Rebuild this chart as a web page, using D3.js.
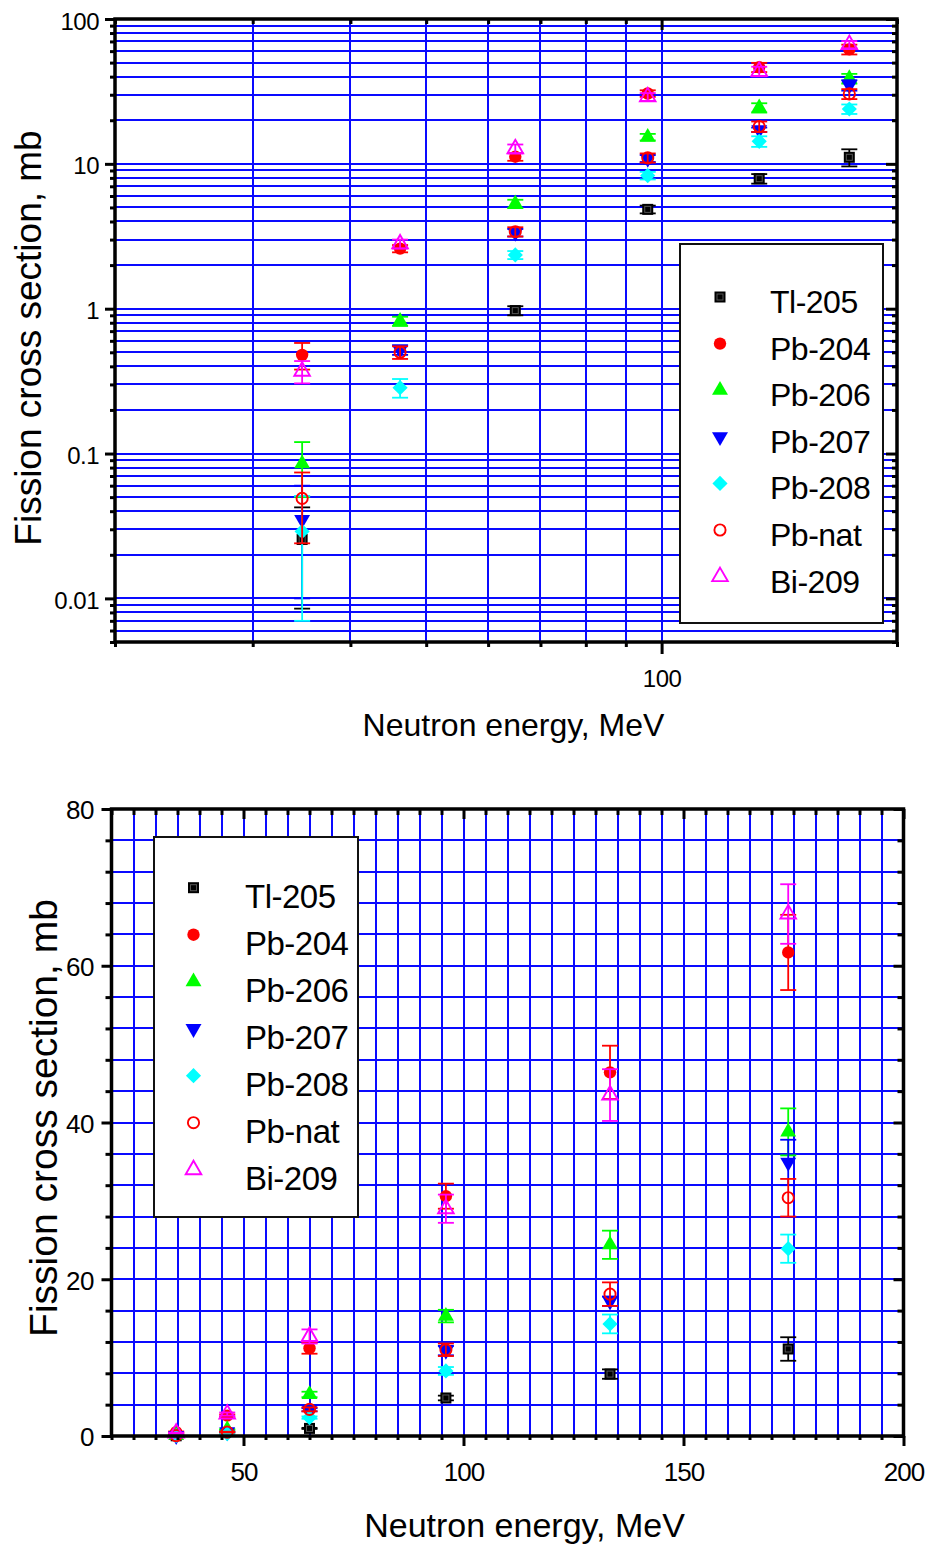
<!DOCTYPE html>
<html>
<head>
<meta charset="utf-8">
<script src="https://cdn.jsdelivr.net/npm/d3@7"></script>
<style>
  body { margin: 0; background: #fff; }
  svg { display: block; font-family: Arial, "Liberation Sans", sans-serif; }
</style>
</head>
<body>
<svg id="fig" width="927" height="1550"></svg>
<script>
// Neutron energies of the measured points (MeV)
const energies = [34.7, 46.3, 65, 96, 133.3, 173.8];

// Fission cross sections (mb) and their uncertainties; null = no measurement
const tl205    = [0.0255, null, 0.97, 4.85, 7.9, 11.1];
const tl205Err = [0.017, null, 0.07, 0.3, 0.6, 1.5];
const pb204    = [0.48, 2.6, 11.2, 30.6, 46.4, 61.7];
const pb204Err = [0.1, 0.15, 0.7, 1.6, 3.4, 4.8];
const pb206    = [0.085, 0.82, 5.3, 15.3, 24.4, 38.8];
const pb206Err = [0.035, 0.06, 0.35, 0.8, 1.8, 3.0];
const pb207    = [0.035, 0.52, 3.35, 10.9, 17.2, 34.9];
const pb207Err = [0.025, 0.04, 0.2, 0.6, 0.6, 2.9];
const pb208    = [0.029, 0.285, 2.35, 8.3, 14.3, 23.9];
const pb208Err = [0.022, 0.042, 0.15, 0.5, 1.2, 1.8];
const pbnat    = [0.049, 0.5, 3.4, 11.0, 18.1, 30.4];
const pbnatErr = [0.025, 0.05, 0.25, 0.8, 1.5, 2.4];
const bi209    = [0.37, 2.8, 12.7, 29.0, 43.5, 66.6];
const bi209Err = [0.065, 0.2, 0.9, 1.8, 3.3, 3.8];

const seriesNames   = ["Tl-205", "Pb-204", "Pb-206", "Pb-207", "Pb-208", "Pb-nat", "Bi-209"];
const seriesColors  = ["#000000", "#ff0000", "#00ff00", "#0000ff", "#00ffff", "#ff0000", "#ff00ff"];
const seriesSymbols = ["square", "circle", "triUp", "triDown", "diamond", "circleOpen", "triOpen"];
const seriesValues  = [tl205, pb204, pb206, pb207, pb208, pbnat, bi209];
const seriesErrors  = [tl205Err, pb204Err, pb206Err, pb207Err, pb208Err, pbnatErr, bi209Err];

// Axis ticks
const logXMinor  = [20, 30, 40, 50, 60, 70, 80, 90, 200];
const logXMajor  = [100];
const logYMajor  = [0.01, 0.1, 1, 10, 100];
const linXMajor  = [50, 100, 150, 200];
const linYMajor  = [0, 20, 40, 60, 80];

const xTitle = "Neutron energy, MeV";
const yTitle = "Fission cross section, mb";

const series = seriesNames.map((name, i) => ({
  name, color: seriesColors[i], symbol: seriesSymbols[i],
  points: energies.map((e, j) => ({ e, v: seriesValues[i][j], err: seriesErrors[i][j] }))
                  .filter(p => p.v !== null)
}));

const svg = d3.select("#fig");
const FONT = 'Arial, "Liberation Sans", sans-serif';

function drawMarker(g, type, color, cx, cy) {
  const t = `translate(${cx},${cy})`;
  if (type === "square") {
    g.append("rect").attr("x", cx - 5.5).attr("y", cy - 5.5).attr("width", 11).attr("height", 11).attr("fill", "#000");
    g.append("rect").attr("x", cx - 3).attr("y", cy - 3).attr("width", 6).attr("height", 6)
      .attr("fill", "none").attr("stroke", "#555").attr("stroke-width", 1);
  } else if (type === "circle") {
    g.append("circle").attr("cx", cx).attr("cy", cy).attr("r", 6.2).attr("fill", color);
  } else if (type === "circleOpen") {
    g.append("circle").attr("cx", cx).attr("cy", cy).attr("r", 5.6)
      .attr("fill", "none").attr("stroke", color).attr("stroke-width", 1.9);
  } else if (type === "triUp") {
    g.append("path").attr("d", d3.symbol(d3.symbolTriangle, 110)()).attr("transform", t).attr("fill", color);
  } else if (type === "triDown") {
    g.append("path").attr("d", d3.symbol(d3.symbolTriangle, 110)()).attr("transform", t + " rotate(180)").attr("fill", color);
  } else if (type === "triOpen") {
    g.append("path").attr("d", d3.symbol(d3.symbolTriangle, 105)()).attr("transform", t)
      .attr("fill", "none").attr("stroke", color).attr("stroke-width", 1.9);
  } else if (type === "diamond") {
    g.append("path").attr("d", d3.symbol(d3.symbolSquare, 115)()).attr("transform", t + " rotate(45)").attr("fill", color);
  }
}

function styleAxis(g, fontSize) {
  g.attr("font-family", FONT).attr("font-size", fontSize);
  g.select(".domain").remove();
  g.selectAll(".tick line").attr("stroke", "#000").attr("stroke-width", 3);
  g.selectAll(".tick text").attr("fill", "#000");
}

function drawPanel(cfg) {
  const { x, y, left, right, top, bottom } = cfg;
  const g = svg.append("g");

  // Grid
  const grid = g.append("g").attr("stroke", "#0a0aff").attr("stroke-width", 2).attr("shape-rendering", "crispEdges");
  grid.selectAll("line.v").data(cfg.vGrid).join("line")
    .attr("x1", d => x(d)).attr("x2", d => x(d)).attr("y1", top).attr("y2", bottom);
  grid.selectAll("line.h").data(cfg.hGrid).join("line")
    .attr("y1", d => y(d)).attr("y2", d => y(d)).attr("x1", left).attr("x2", right);

  // Legend
  const L = cfg.legend;
  const lg = g.append("g");
  lg.append("rect").attr("x", L.x0).attr("y", L.y0).attr("width", L.x1 - L.x0).attr("height", L.y1 - L.y0)
    .attr("fill", "#fff").attr("stroke", "#111").attr("stroke-width", 2);
  series.forEach((s, i) => {
    const ry = L.row0 + i * L.step;
    drawMarker(lg, s.symbol, s.color, L.symX, ry);
    lg.append("text").attr("x", L.textX).attr("y", ry + L.dy)
      .attr("font-size", L.fontSize).attr("font-family", FONT).attr("fill", "#000")
      .attr("letter-spacing", -0.5).text(s.name);
  });

  // Data with error bars
  const dg = g.append("g");
  series.forEach(s => {
    const sg = dg.append("g").attr("stroke", s.color).attr("stroke-width", 1.8);
    s.points.forEach(p => {
      const px = x(p.e), yHi = y(p.v + p.err), yLo = y(p.v - p.err);
      sg.append("line").attr("x1", px).attr("x2", px).attr("y1", yHi).attr("y2", yLo);
      sg.append("line").attr("x1", px - 8).attr("x2", px + 8).attr("y1", yHi).attr("y2", yHi);
      sg.append("line").attr("x1", px - 8).attr("x2", px + 8).attr("y1", yLo).attr("y2", yLo);
    });
    const mg = dg.append("g");
    s.points.forEach(p => drawMarker(mg, s.symbol, s.color, x(p.e), y(p.v)));
  });

  // Axes (ticks)
  const A = cfg.axes;
  // bottom
  g.append("g").attr("transform", `translate(0,${bottom})`)
    .call(d3.axisBottom(x).tickValues(A.xMinor).tickSize(A.xMinorLen).tickFormat(""))
    .call(a => styleAxis(a, A.fontSize));
  g.append("g").attr("transform", `translate(0,${bottom})`)
    .call(d3.axisBottom(x).tickValues(A.xMajor).tickSize(A.xMajorLen).tickPadding(A.xPad).tickFormat(d3.format("d")))
    .call(a => styleAxis(a, A.fontSize))
    .call(a => a.selectAll(".tick text").attr("letter-spacing", A.xLetter));
  // top (inward)
  g.append("g").attr("transform", `translate(0,${top})`)
    .call(d3.axisTop(x).tickValues(A.xMinor).tickSize(-A.innerMinor).tickFormat(""))
    .call(a => styleAxis(a, A.fontSize));
  g.append("g").attr("transform", `translate(0,${top})`)
    .call(d3.axisTop(x).tickValues(A.xMajor).tickSize(-A.innerMajor).tickFormat(""))
    .call(a => styleAxis(a, A.fontSize));
  // left
  g.append("g").attr("transform", `translate(${left},0)`)
    .call(d3.axisLeft(y).tickValues(A.yMinor).tickSize(A.yMinorLen).tickFormat(""))
    .call(a => styleAxis(a, A.fontSize));
  g.append("g").attr("transform", `translate(${left},0)`)
    .call(d3.axisLeft(y).tickValues(A.yMajor).tickSize(A.yMajorLen).tickPadding(A.yPad).tickFormat(A.yFormat))
    .call(a => styleAxis(a, A.fontSize))
    .call(a => a.selectAll(".tick text").attr("dy", A.yDy).attr("letter-spacing", A.yLetter));
  // right (inward)
  g.append("g").attr("transform", `translate(${right},0)`)
    .call(d3.axisRight(y).tickValues(A.yMinor).tickSize(-A.innerMinor).tickFormat(""))
    .call(a => styleAxis(a, A.fontSize));
  g.append("g").attr("transform", `translate(${right},0)`)
    .call(d3.axisRight(y).tickValues(A.yMajor).tickSize(-A.innerMajor).tickFormat(""))
    .call(a => styleAxis(a, A.fontSize));

  // Frame
  g.append("rect").attr("x", left).attr("y", top).attr("width", right - left).attr("height", bottom - top)
    .attr("fill", "none").attr("stroke", "#000").attr("stroke-width", 3.5);

  // Titles
  g.append("text").attr("x", cfg.xt.x).attr("y", cfg.xt.y).attr("text-anchor", "middle")
    .attr("font-size", cfg.xt.size).attr("font-family", FONT).attr("fill", "#000").text(xTitle);
  g.append("text").attr("transform", `translate(${cfg.yt.x},${cfg.yt.y}) rotate(-90)`).attr("text-anchor", "middle")
    .attr("font-size", cfg.yt.size).attr("font-family", FONT).attr("fill", "#000").text(yTitle);
}

// ---- Upper panel: logarithmic axes ----
{
  const left = 115, right = 897, top = 19, bottom = 642;
  const x = d3.scaleLog().domain([20, 200]).range([left, right]);
  const y = d3.scaleLog().domain([0.005, 100]).range([bottom, top]);
  const yAll = [];
  for (let e = -3; e <= 1; e++) for (let m = 1; m <= 9; m++) {
    const v = +(m + "e" + e);
    if (v >= 0.005 && v < 100) yAll.push(v);
  }
  const yMinor = yAll.filter(v => !logYMajor.includes(v));
  drawPanel({
    x, y, left, right, top, bottom,
    vGrid: [30, 40, 50, 60, 70, 80, 90, 100],
    hGrid: yAll.filter(v => v > 0.005),
    legend: { x0: 680, y0: 244, x1: 883, y1: 623, symX: 720, textX: 770, row0: 297, step: 46.6, dy: 16, fontSize: 32 },
    axes: {
      fontSize: 24,
      xMinor: logXMinor, xMajor: logXMajor, xMinorLen: 5, xMajorLen: 12, xPad: 16, xLetter: -0.5,
      innerMinor: 5, innerMajor: 11,
      yMinor, yMajor: logYMajor, yMinorLen: 5, yMajorLen: 10, yPad: 6, yDy: "0.42em", yLetter: -0.5,
      yFormat: d => String(d)
    },
    xt: { x: 513.5, y: 736, size: 32 },
    yt: { x: 41, y: 338, size: 37 }
  });
}

// ---- Lower panel: linear axes ----
{
  const left = 111.5, right = 903.5, top = 809, bottom = 1436;
  const x = d3.scaleLinear().domain([20, 200]).range([left, right]);
  const y = d3.scaleLinear().domain([0, 80]).range([bottom, top]);
  const xAll = d3.range(20, 201, 5);
  const yAll = d3.range(0, 81, 4);
  drawPanel({
    x, y, left, right, top, bottom,
    vGrid: xAll.filter(v => v > 20 && v < 200),
    hGrid: yAll.filter(v => v > 0 && v < 80),
    legend: { x0: 154, y0: 837, x1: 358, y1: 1217, symX: 193.5, textX: 245, row0: 887.7, step: 47, dy: 20, fontSize: 33 },
    axes: {
      fontSize: 26,
      xMinor: xAll.filter(v => !linXMajor.includes(v)), xMajor: linXMajor, xMinorLen: 4, xMajorLen: 10, xPad: 17, xLetter: -1,
      innerMinor: 6, innerMajor: 10,
      yMinor: yAll.filter(v => !linYMajor.includes(v)), yMajor: linYMajor, yMinorLen: 6, yMajorLen: 10, yPad: 7.5, yDy: "0.38em", yLetter: -0.5,
      yFormat: d3.format("d")
    },
    xt: { x: 524.5, y: 1537, size: 34 },
    yt: { x: 57, y: 1118, size: 39 }
  });
}
</script>
</body>
</html>
